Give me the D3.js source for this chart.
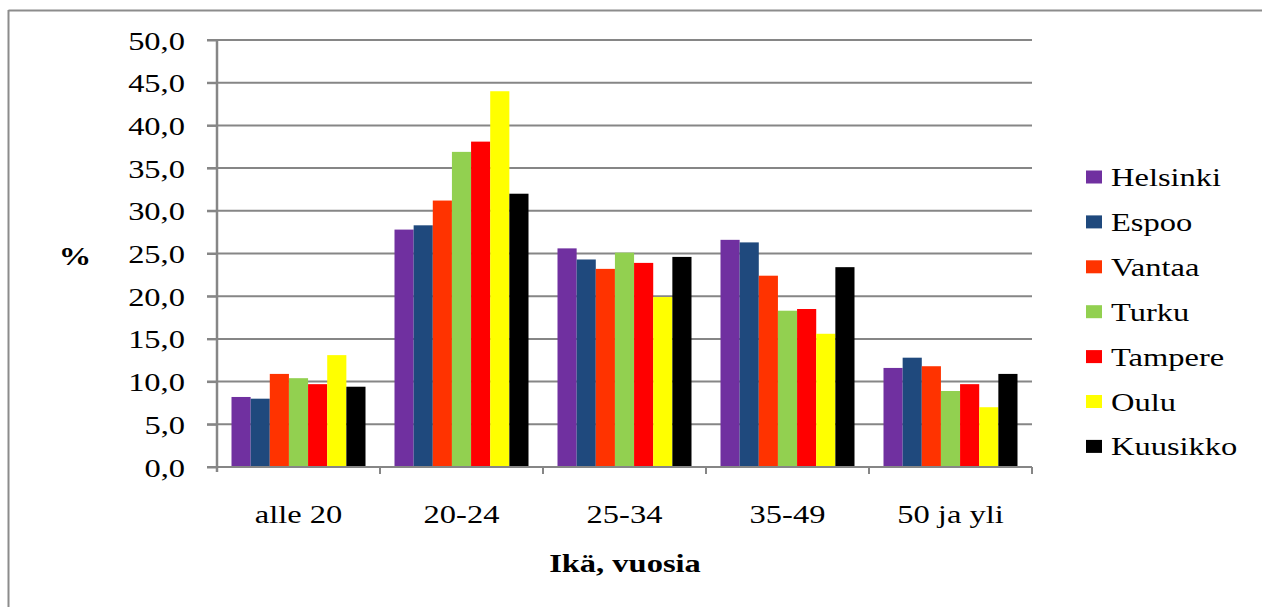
<!DOCTYPE html>
<html>
<head>
<meta charset="utf-8">
<script src="https://cdn.jsdelivr.net/npm/d3@7"></script>
<style>
  html, body { margin: 0; padding: 0; background: #fff; }
  svg { display: block; }
  text { font-family: "Liberation Serif", "Times New Roman", serif; fill: #000; }
</style>
</head>
<body>
<svg id="chart" width="1262" height="607"></svg>
<script>
// ---- data ----
const categories = ["alle 20", "20-24", "25-34", "35-49", "50 ja yli"];
const seriesNames = ["Helsinki", "Espoo", "Vantaa", "Turku", "Tampere", "Oulu", "Kuusikko"];
const seriesColors = ["#7030A0", "#1F497D", "#FF3300", "#92D050", "#FF0000", "#FFFF00", "#000000"];
const helsinki = [8.2, 27.8, 25.6, 26.6, 11.6];
const espoo    = [8.0, 28.3, 24.3, 26.3, 12.8];
const vantaa   = [10.9, 31.2, 23.2, 22.4, 11.8];
const turku    = [10.4, 36.9, 25.1, 18.3, 8.9];
const tampere  = [9.7, 38.1, 23.9, 18.5, 9.7];
const oulu     = [13.1, 44.0, 19.9, 15.6, 7.0];
const kuusikko = [9.4, 32.0, 24.6, 23.4, 10.9];
const yTicks = [0, 5, 10, 15, 20, 25, 30, 35, 40, 45, 50];
const yAxisTitle = "%";
const xAxisTitle = "Ikä, vuosia";

const seriesValues = [helsinki, espoo, vantaa, turku, tampere, oulu, kuusikko];

// ---- layout ----
const svg = d3.select("#chart");
const SX = 1.3; // horizontal stretch of the text in the reference
const pLeft = 217, pRight = 1032, pTop = 40, pBottom = 467;

// frame
svg.append("line").attr("x1", 8.5).attr("x2", 1262).attr("y1", 10.5).attr("y2", 10.5)
  .attr("stroke", "#8c8c8c").attr("stroke-width", 2);
svg.append("line").attr("x1", 8.5).attr("x2", 8.5).attr("y1", 10).attr("y2", 607)
  .attr("stroke", "#8c8c8c").attr("stroke-width", 2);

const x = d3.scaleBand().domain(categories).range([pLeft, pRight]).paddingInner(0).paddingOuter(0);
const xInner = d3.scaleBand().domain(seriesNames).range([14.5, x.bandwidth() - 14.5]).padding(0);
const y = d3.scaleLinear().domain([0, 50]).range([pBottom, pTop]);

function stretchedText(sel, tx, ty) {
  return sel.attr("transform", `translate(${tx},${ty}) scale(${SX},1)`);
}

// gridlines
const g = svg.append("g");
g.selectAll("line.grid").data(yTicks.filter(d => d > 0)).enter().append("line")
  .attr("class", "grid")
  .attr("x1", pLeft - 10).attr("x2", pRight)
  .attr("y1", d => y(d)).attr("y2", d => y(d))
  .attr("stroke", "#868686").attr("stroke-width", 2);

// bars
const barG = svg.append("g");
seriesNames.forEach((name, si) => {
  barG.selectAll(null).data(seriesValues[si]).enter().append("rect")
    .attr("x", (d, i) => x(categories[i]) + xInner(name))
    .attr("width", xInner.bandwidth())
    .attr("y", d => y(d))
    .attr("height", d => y(0) - y(d))
    .attr("fill", seriesColors[si]);
});

// axes
const yAxis = d3.axisLeft(y).tickValues(yTicks).tickSize(10).tickFormat(d => d3.format(".1f")(d).replace(".", ","));
const yAxisG = svg.append("g").attr("transform", `translate(${pLeft},0)`).call(yAxis);
yAxisG.select(".domain").attr("stroke", "#868686").attr("stroke-width", 2.5)
  .attr("d", `M0,${pTop}V${pBottom + 5}`);
yAxisG.selectAll(".tick line").attr("stroke", "#868686").attr("stroke-width", 2);
yAxisG.selectAll(".tick text").each(function(d) {
  const t = d3.select(this);
  t.attr("x", null).attr("dy", null).attr("font-size", 25).attr("font-family", null)
   .attr("text-anchor", "end");
  t.attr("transform", `translate(-32,9) scale(${SX},1)`);
});
yAxisG.attr("font-family", null).attr("font-size", null);

// x axis baseline and ticks
const xAxisG = svg.append("g");
xAxisG.append("line").attr("x1", pLeft - 10).attr("x2", pRight).attr("y1", pBottom).attr("y2", pBottom)
  .attr("stroke", "#868686").attr("stroke-width", 2);
const boundaries = categories.map(c => x(c) + x.bandwidth());
xAxisG.selectAll("line.xt").data(boundaries).enter().append("line")
  .attr("x1", d => d).attr("x2", d => d).attr("y1", pBottom).attr("y2", pBottom + 7)
  .attr("stroke", "#868686").attr("stroke-width", 2);
xAxisG.selectAll("text.xl").data(categories).enter().append("text")
  .attr("class", "xl")
  .attr("font-size", 25).attr("text-anchor", "middle")
  .text(d => d)
  .each(function(d) { stretchedText(d3.select(this), x(d) + x.bandwidth() / 2, 523); });

// axis titles
stretchedText(svg.append("text").attr("font-size", 25).attr("font-weight", "bold").attr("text-anchor", "middle")
  .text(yAxisTitle), 75, 265);
stretchedText(svg.append("text").attr("font-size", 25).attr("font-weight", "bold").attr("text-anchor", "middle")
  .text(xAxisTitle), 625, 572);

// legend
const legend = svg.append("g");
seriesNames.forEach((name, i) => {
  const cy = 177 + i * 44.9;
  legend.append("rect").attr("x", 1086).attr("y", cy - 6.5).attr("width", 16).attr("height", 13)
    .attr("fill", seriesColors[i]);
  stretchedText(legend.append("text").attr("font-size", 25).text(name), 1111, cy + 9);
});
</script>
</body>
</html>
